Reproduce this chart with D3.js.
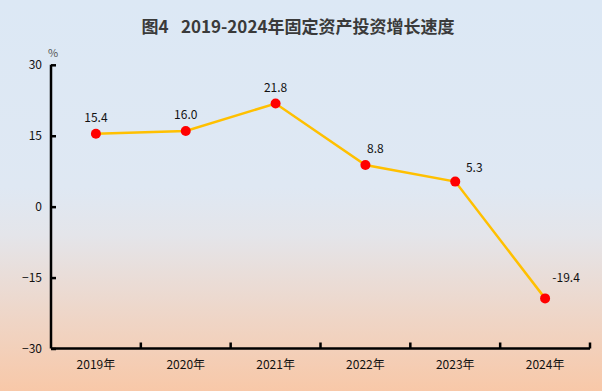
<!DOCTYPE html>
<html><head><meta charset="utf-8">
<script src="https://cdn.jsdelivr.net/npm/d3@7/dist/d3.min.js"></script>
<style>html,body{margin:0;padding:0;}svg{display:block;}</style>
</head><body>
<script>
const categories = ["2019年","2020年","2021年","2022年","2023年","2024年"];
const values = [15.4, 16.0, 21.8, 8.8, 5.3, -19.4];
const yTicks = [-30, -15, 0, 15, 30];
const labelDx = [0, 0, 0, 10, 19, 21];
const labelDy = [-12, -12, -12, -12, -10, -16];

const W = 602, H = 391;
const svg = d3.select("body").append("svg").attr("width", W).attr("height", H);
const defs = svg.append("defs");
const g = defs.append("linearGradient").attr("id","bg").attr("x1",0).attr("y1",0).attr("x2",0).attr("y2",1);
[[0,"#dce8f5"],[0.48,"#dfe8f3"],[0.6,"#e4e5ea"],[1,"#f8c8a8"]].forEach(([o,c])=>g.append("stop").attr("offset",o).attr("stop-color",c));
svg.append("rect").attr("width",W).attr("height",H).attr("fill","url(#bg)");

const font = "'Noto Sans CJK SC', 'Noto Sans', sans-serif";
svg.append("text").attr("x",298).attr("y",33).attr("text-anchor","middle")
  .attr("font-family",font).attr("font-size",17).attr("font-weight","bold").attr("fill","#3a3a3a")
  .text("图4\u2002 2019-2024年固定资产投资增长速度");

const x = d3.scaleBand().domain(categories).range([51, 590]);
const y = d3.scaleLinear().domain([-30, 30]).range([348.5, 64.8]);

// y axis
const ya = svg.append("g").attr("transform","translate(51,0)")
  .call(d3.axisLeft(y).tickValues(yTicks).tickSize(-5).tickPadding(9).tickFormat(d3.format("d")));
ya.select(".domain").attr("stroke","#000").attr("stroke-width",2.5).attr("d",`M0,${y(30)}V${y(-30)}`);
ya.selectAll(".tick line").attr("stroke","#000").attr("stroke-width",2.5);
ya.selectAll(".tick text").attr("font-family",font).attr("font-size",12).attr("fill","#111");

// x axis
const xa = svg.append("g").attr("transform",`translate(0,${y(-30)})`)
  .call(d3.axisBottom(x).tickSize(0).tickPadding(12));
xa.select(".domain").attr("stroke","#000").attr("stroke-width",2.5).attr("d","M51,0H590");
xa.selectAll(".tick text").attr("font-family",font).attr("font-size",12).attr("fill","#111");
const bounds = categories.map(c => x(c) + x.bandwidth());
svg.append("g").selectAll("line").data(bounds).join("line")
  .attr("x1",d=>d).attr("x2",d=>d).attr("y1",y(-30)).attr("y2",y(-30)-6)
  .attr("stroke","#000").attr("stroke-width",2.5);

svg.append("text").attr("x",53).attr("y",57).attr("text-anchor","middle")
  .attr("font-family",font).attr("font-size",11).attr("fill","#555").text("%");

const cx = c => x(c) + x.bandwidth()/2;
const line = d3.line().x((d,i)=>cx(categories[i])).y(d=>y(d));
svg.append("path").datum(values).attr("d",line).attr("fill","none")
  .attr("stroke","#ffc000").attr("stroke-width",2.5);
svg.append("g").selectAll("circle").data(values).join("circle")
  .attr("cx",(d,i)=>cx(categories[i])).attr("cy",d=>y(d)).attr("r",5).attr("fill","#ff0000");
svg.append("g").selectAll("text").data(values).join("text")
  .attr("x",(d,i)=>cx(categories[i])+labelDx[i]).attr("y",(d,i)=>y(d)+labelDy[i])
  .attr("text-anchor","middle").attr("font-family",font).attr("font-size",12).attr("fill","#111")
  .text(d=>d.toFixed(1));
</script>
</body></html>
